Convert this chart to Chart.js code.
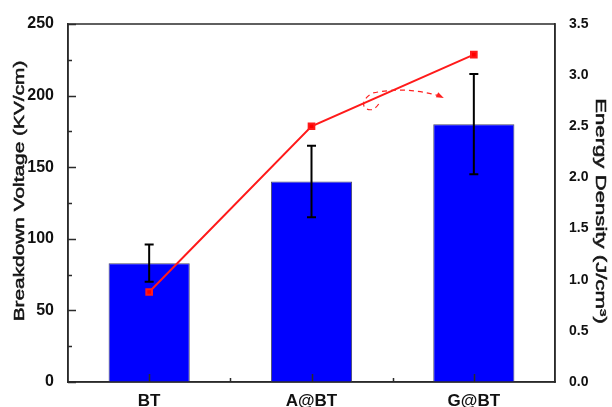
<!DOCTYPE html>
<html lang="en">

<head>
  <meta charset="UTF-8">
  <title>Breakdown Voltage and Energy Density</title>
  <script src="https://cdn.jsdelivr.net/npm/chart.js"></script>
  <style>
    body {
      margin: 0;
      background: #ffffff;
    }

    #wrap {
      width: 612px;
      height: 407px;
    }
  </style>
</head>

<body>
  <div id="wrap">
    <canvas id="bdChart" width="612" height="407"></canvas>
  </div>
  <script>
    // samples
    const categories = ['BT', 'A@BT', 'G@BT'];
    // breakdown voltage (KV/cm) with error range
    const voltage = [83, 140, 180];
    const voltageLow = [70, 115, 145];
    const voltageHigh = [96, 165, 215];
    // energy density (J/cm3)
    const energy = [0.88, 2.5, 3.2];

    const voltageTicks = [0, 50, 100, 150, 200, 250];
    const energyTicks = [0, 0.5, 1, 1.5, 2, 2.5, 3, 3.5];

    // dashed curl arrow, in (category index, energy) units
    const curlPath = [
      [1.414, 2.718],
      [1.377, 2.630], [1.327, 2.679],
      [1.302, 2.757], [1.377, 2.825],
      [1.580, 2.894], [1.790, 2.796]
    ];
    const curlTip = [1.815, 2.777];

    const AXIS = '#2b2b2b';
    const FONT = "'Liberation Sans', Arial, sans-serif";

    function xAt(x, i) {
      const p0 = x.getPixelForValue(0);
      const p1 = x.getPixelForValue(1);
      return p0 + i * (p1 - p0);
    }

    // error bars on top of the bars
    const errorBars = {
      id: 'errorBars',
      afterDatasetDraw(chart, args) {
        if (args.index !== 0) return;
        const { ctx, scales: { x, y } } = chart;
        ctx.save();
        ctx.strokeStyle = '#000';
        ctx.lineWidth = 2;
        categories.forEach((c, i) => {
          const cx = x.getPixelForValue(i);
          const yl = y.getPixelForValue(voltageLow[i]);
          const yh = y.getPixelForValue(voltageHigh[i]);
          ctx.beginPath();
          ctx.moveTo(cx, yl);
          ctx.lineTo(cx, yh);
          ctx.moveTo(cx - 4.5, yl);
          ctx.lineTo(cx + 4.5, yl);
          ctx.moveTo(cx - 4.5, yh);
          ctx.lineTo(cx + 4.5, yh);
          ctx.stroke();
        });
        ctx.restore();
      }
    };

    // frame, inward ticks, axis titles and the curl arrow
    const frame = {
      id: 'frame',
      afterDraw(chart) {
        const { ctx, chartArea: a, scales: { x, y, y1 } } = chart;
        ctx.save();
        ctx.strokeStyle = AXIS;
        ctx.lineWidth = 1.5;
        ctx.strokeRect(a.left, a.top, a.right - a.left, a.bottom - a.top);

        ctx.beginPath();
        for (let v = 0; v <= 250; v += 25) {
          const py = Math.round(y.getPixelForValue(v)) + 0.5;
          const len = v % 50 === 0 ? 8 : 4;
          ctx.moveTo(a.left, py);
          ctx.lineTo(a.left + len, py);
        }
        for (let i = 0; i < categories.length; i++) {
          const px = Math.round(xAt(x, i)) + 0.5;
          ctx.moveTo(px, a.bottom);
          ctx.lineTo(px, a.bottom - 8);
          const bx = Math.round(xAt(x, i + 0.5)) + 0.5;
          if (i < categories.length - 1) {
            ctx.moveTo(bx, a.bottom);
            ctx.lineTo(bx, a.bottom - 4);
          }
        }
        ctx.stroke();

        // axis titles, slightly stretched along the text
        ctx.fillStyle = '#151515';
        ctx.strokeStyle = '#151515';
        ctx.lineWidth = 0.5;
        ctx.font = '15px ' + FONT;
        ctx.textAlign = 'center';
        ctx.textBaseline = 'middle';
        const midY = (a.top + a.bottom) / 2;

        const title = (text, cx, cy, rot, stretch) => {
          ctx.save();
          ctx.translate(cx, cy);
          ctx.rotate(rot);
          ctx.scale(stretch, 1);
          ctx.fillText(text, 0, 0);
          ctx.strokeText(text, 0, 0);
          ctx.restore();
        };
        title('Breakdown Voltage (KV/cm)', 20, midY - 12, -Math.PI / 2, 1.39);
        title('Energy Density (J/cm³)', 600, midY + 8, Math.PI / 2, 1.48);

        // dashed curl arrow
        const px = p => xAt(x, p[0]);
        const py = p => y1.getPixelForValue(p[1]);
        ctx.strokeStyle = '#ff2020';
        ctx.fillStyle = '#ff2020';
        ctx.lineWidth = 1.2;
        ctx.setLineDash([5, 4]);
        ctx.beginPath();
        ctx.moveTo(px(curlPath[0]), py(curlPath[0]));
        for (let k = 1; k < curlPath.length; k += 2) {
          ctx.quadraticCurveTo(px(curlPath[k]), py(curlPath[k]),
            px(curlPath[k + 1]), py(curlPath[k + 1]));
        }
        ctx.stroke();
        ctx.setLineDash([]);
        const end = curlPath[curlPath.length - 1];
        const tx = px(curlTip), ty = py(curlTip);
        const ang = Math.atan2(ty - py(end), tx - px(end));
        ctx.beginPath();
        ctx.moveTo(tx, ty);
        ctx.lineTo(tx - 8 * Math.cos(ang - 0.35), ty - 8 * Math.sin(ang - 0.35));
        ctx.lineTo(tx - 8 * Math.cos(ang + 0.35), ty - 8 * Math.sin(ang + 0.35));
        ctx.closePath();
        ctx.fill();
        ctx.restore();
      }
    };

    const ctx = document.getElementById('bdChart').getContext('2d');
    new Chart(ctx, {
      data: {
        labels: categories,
        datasets: [{
          type: 'bar',
          label: 'Breakdown Voltage',
          data: voltage,
          yAxisID: 'y',
          backgroundColor: '#0000ff',
          borderColor: '#4a4a6a',
          borderWidth: 1,
          barPercentage: 0.5,
          categoryPercentage: 1,
          order: 1
        }, {
          type: 'line',
          label: 'Energy Density',
          data: energy,
          yAxisID: 'y1',
          borderColor: '#ff1a1a',
          backgroundColor: '#ff0000',
          borderWidth: 2,
          pointStyle: 'rect',
          pointRadius: 4,
          tension: 0,
          order: 0
        }]
      },
      options: {
        responsive: false,
        animation: false,
        layout: {
          padding: { top: 24, left: 0, right: 0, bottom: 0 }
        },
        scales: {
          x: {
            type: 'category',
            offset: true,
            grid: { display: false },
            border: { color: AXIS, width: 1.5 },
            ticks: {
              color: '#111',
              padding: 1,
              font: { family: FONT, size: 17, weight: 'bold' }
            },
            afterFit(s) { s.height = 25; }
          },
          y: {
            position: 'left',
            min: 0,
            max: 250,
            afterBuildTicks(s) { s.ticks = voltageTicks.map(v => ({ value: v })); },
            grid: { display: false },
            border: { color: AXIS, width: 1.5 },
            ticks: {
              color: '#111',
              padding: 6,
              font: { family: FONT, size: 16, weight: 'bold' }
            },
            afterFit(s) { s.width = 68; }
          },
          y1: {
            position: 'right',
            min: 0,
            max: 3.5,
            afterBuildTicks(s) { s.ticks = energyTicks.map(v => ({ value: v })); },
            grid: { display: false },
            border: { color: AXIS, width: 1.5 },
            ticks: {
              color: '#111',
              padding: 6,
              callback: v => v.toFixed(1),
              font: { family: FONT, size: 14, weight: 'bold' }
            },
            afterFit(s) { s.width = 57; }
          }
        },
        plugins: {
          legend: { display: false },
          tooltip: { enabled: false }
        }
      },
      plugins: [errorBars, frame]
    });
  </script>
</body>

</html>
